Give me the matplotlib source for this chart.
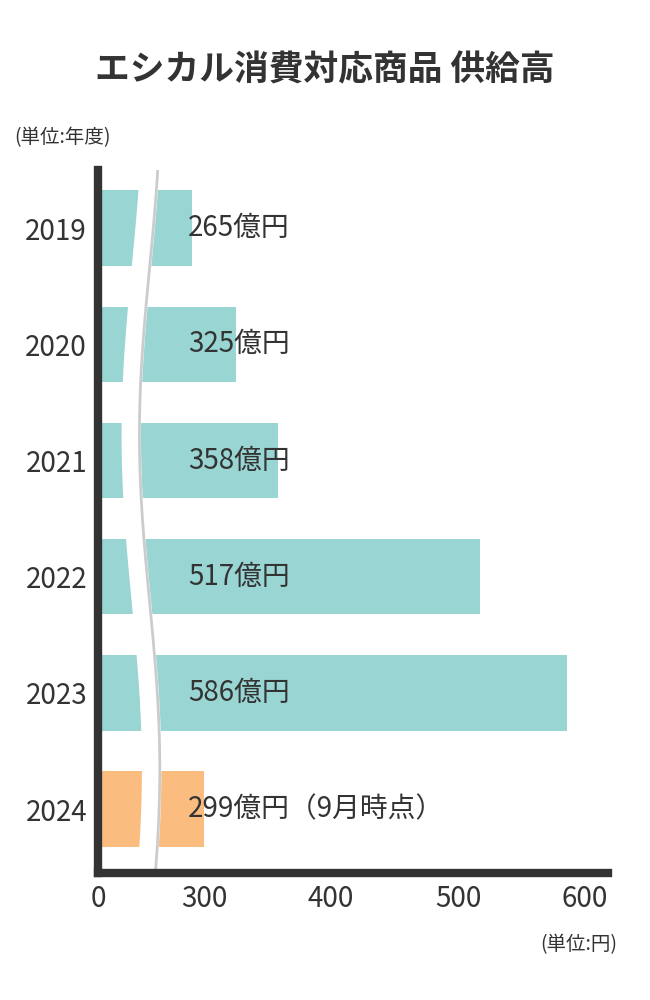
import matplotlib
matplotlib.use("Agg")
import matplotlib.pyplot as plt
import numpy as np

plt.rcParams["font.family"] = "Noto Sans CJK JP"

years = ["2019", "2020", "2021", "2022", "2023", "2024"]
values = [265, 325, 358, 517, 586, 299]
labels = ["265億円", "325億円", "358億円", "517億円", "586億円", "299億円（9月時点）"]
colors = ["#99d5d3"] * 5 + ["#fbbd7f"]
xticks = [0, 300, 400, 500, 600]

src = [0, 300, 618]
dst = [0, 106, 510]
fwd = lambda v: np.interp(v, src, dst)
inv = lambda v: np.interp(v, dst, src)

fig = plt.figure(figsize=(6.5, 10), dpi=100)
ax = fig.add_axes([0.151, 0.127, 0.784, 0.703])
ax.set_xscale("function", functions=(fwd, inv))
y = np.arange(len(years))
ax.barh(y, values, height=0.65, color=colors, zorder=1)
ax.set_ylim(len(years) - 0.45, -0.5)
ax.set_xlim(0, 618)
ax.set_yticks(y, years)
ax.set_xticks(xticks, [str(t) for t in xticks])
ax.tick_params(length=0, labelsize=20, colors="#333333", pad=8)
for s in ["top", "right"]:
    ax.spines[s].set_visible(False)
for s in ["left", "bottom"]:
    ax.spines[s].set_linewidth(6)
    ax.spines[s].set_color("#333333")
    ax.spines[s].set_zorder(5)
for yi, lab in zip(y, labels):
    ax.text(0.176, yi, lab, transform=ax.get_yaxis_transform(), va="center",
            ha="left", fontsize=20, color="#333333", zorder=4)

# wavy break
yy = np.linspace(0, 1, 300)
xx = 0.085 + 0.02 * np.sin(yy * 2 * np.pi * 1.05 + 0.6)
ax.plot(xx, yy, transform=ax.transAxes, color="white", lw=14, zorder=2, clip_on=False)
ax.plot(xx + 0.016, yy, transform=ax.transAxes, color="#cccccc", lw=2, zorder=3)

fig.text(0.5, 0.93, "エシカル消費対応商品 供給高", ha="center", va="center",
         fontsize=25, fontweight="bold", color="#333333")
fig.text(0.022, 0.862, "(単位:年度)", ha="left", va="center", fontsize=14, color="#333333")
fig.text(0.95, 0.055, "(単位:円)", ha="right", va="center", fontsize=14, color="#333333")
fig.savefig("out.png", dpi=100, facecolor="white")
